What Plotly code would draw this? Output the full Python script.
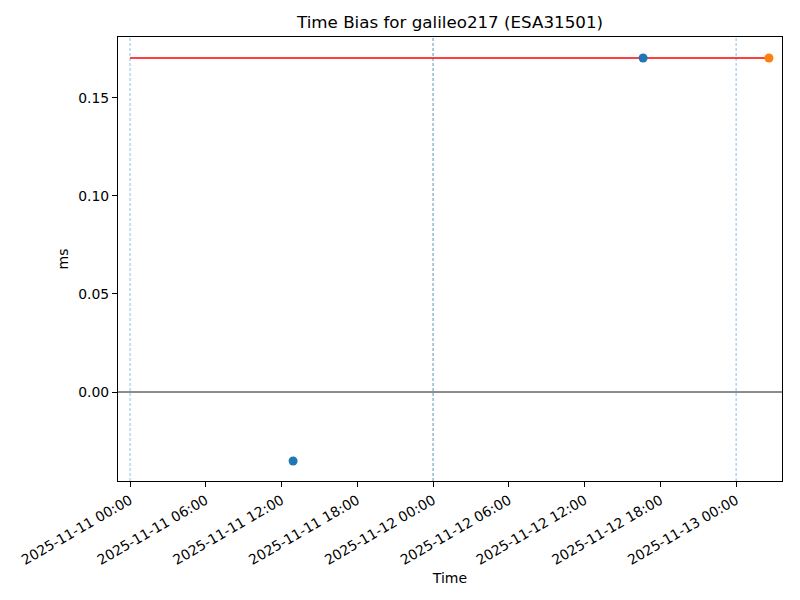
import plotly.graph_objects as go

# Data
blue_times = ["2025-11-11 12:55", "2025-11-12 16:38"]
blue_values = [-0.0352, 0.1704]
orange_times = ["2025-11-13 02:36"]
orange_values = [0.1704]
ref_line_times = ["2025-11-11 00:00", "2025-11-13 02:36"]
ref_line_values = [0.1704, 0.1704]
day_marks = ["2025-11-11 00:00", "2025-11-12 00:00", "2025-11-13 00:00"]
x_range = ["2025-11-10 23:03", "2025-11-13 03:38"]
y_range = [-0.0454, 0.1811]

FONT = "DejaVu Sans, Liberation Sans, sans-serif"

fig = go.Figure()

# zero line
fig.add_hline(y=0, line=dict(color="black", width=0.9), layer="below")
# day marks
for i, d in enumerate(day_marks):
    if i == 1:
        fig.add_vline(x=d, line=dict(color="#999999", width=0.7, dash="3px,2px"), layer="below")
    fig.add_vline(x=d, line=dict(color="#6aaee0", width=0.8, dash="3px,2px"), layer="below")

fig.add_trace(go.Scatter(x=ref_line_times, y=ref_line_values, mode="lines",
                         line=dict(color="red", width=1.5), showlegend=False))
fig.add_trace(go.Scatter(x=blue_times, y=blue_values, mode="markers",
                         marker=dict(color="#1f77b4", size=9), showlegend=False))
fig.add_trace(go.Scatter(x=orange_times, y=orange_values, mode="markers",
                         marker=dict(color="#ff7f0e", size=9), showlegend=False))

fig.update_layout(
    width=800, height=600,
    margin=dict(l=110, r=26, t=29, b=127, autoexpand=False),
    paper_bgcolor="white", plot_bgcolor="white",
    font=dict(family=FONT, size=14, color="black"),
    title=dict(text="Time Bias for galileo217 (ESA31501)", x=0.5, xref="paper",
               y=1 - 14 / 600, yref="container", yanchor="middle",
               font=dict(size=16.7, family=FONT, color="black")),
    xaxis=dict(range=x_range, type="date", tickformat="%Y-%m-%d %H:%M",
               tick0="2025-11-11 00:00", dtick=6 * 3600 * 1000, tickangle=-30,
               showgrid=False, zeroline=False, showline=True, linecolor="black",
               linewidth=1, mirror=True, ticks="outside", ticklen=5, tickcolor="black",
               title=dict(text="Time", font=dict(size=14), standoff=6), tickfont=dict(size=13.9)),
    yaxis=dict(range=y_range, tickformat=".2f", dtick=0.05, tick0=0,
               showgrid=False, zeroline=False, showline=True, linecolor="black",
               linewidth=1, mirror=True, ticks="outside", ticklen=5, tickcolor="black",
               title=dict(text="ms", font=dict(size=14), standoff=6), tickfont=dict(size=13.9)),
)

fig.write_html("out.html")
